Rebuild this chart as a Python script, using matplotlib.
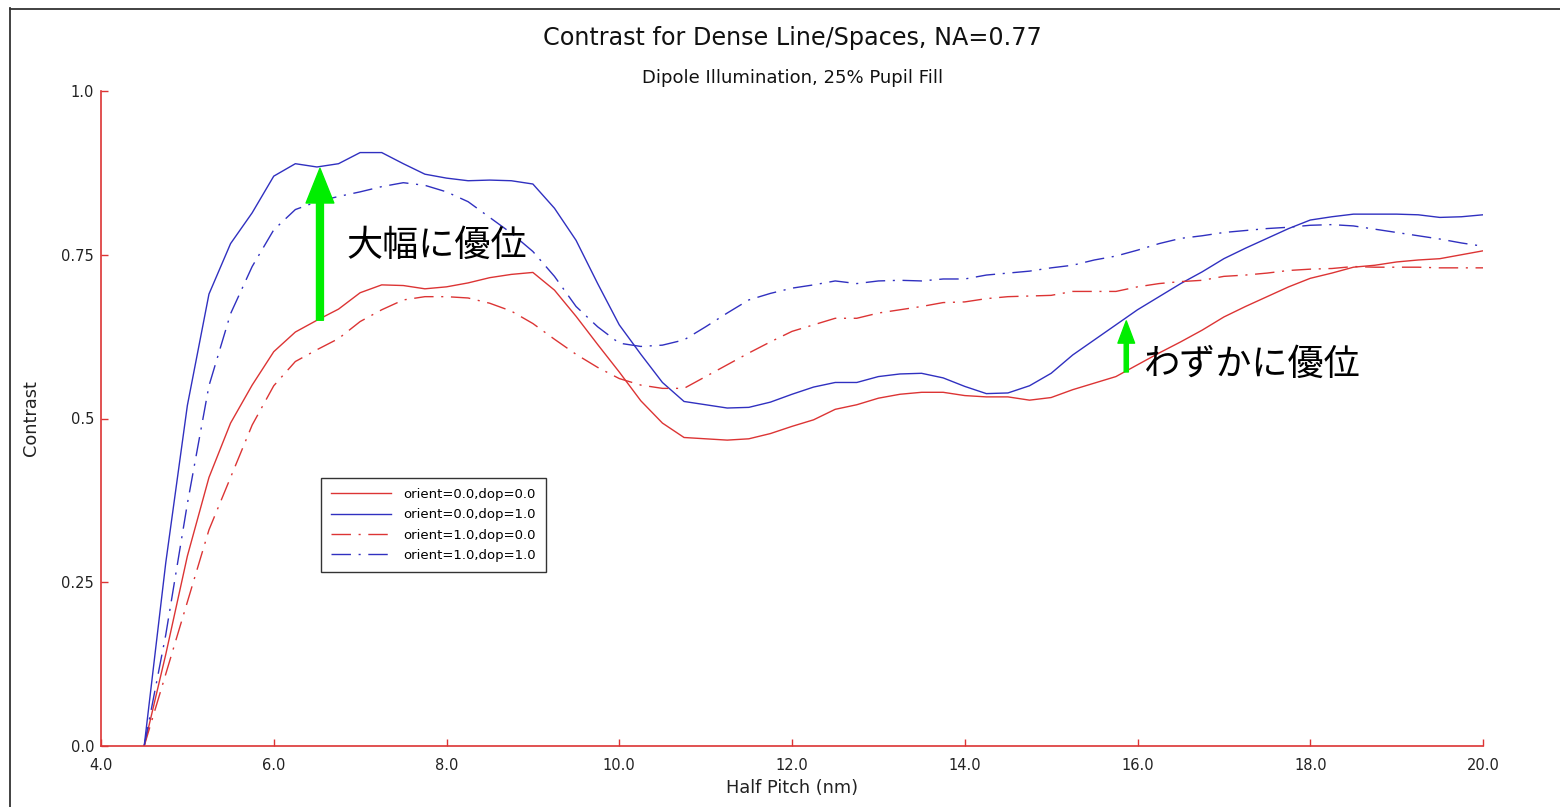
import numpy as np
import matplotlib
matplotlib.use("Agg")
import matplotlib.pyplot as plt
from matplotlib.patches import FancyArrowPatch, ArrowStyle
from matplotlib.lines import Line2D

half_pitch = [4.5, 4.75, 5.0, 5.25, 5.5, 5.75, 6.0, 6.25, 6.5, 6.75, 7.0, 7.25, 7.5, 7.75,
              8.0, 8.25, 8.5, 8.75, 9.0, 9.25, 9.5, 9.75, 10.0, 10.25, 10.5, 10.75, 11.0,
              11.25, 11.5, 11.75, 12.0, 12.25, 12.5, 12.75, 13.0, 13.25, 13.5, 13.75, 14.0,
              14.25, 14.5, 14.75, 15.0, 15.25, 15.5, 15.75, 16.0, 16.25, 16.5, 16.75, 17.0,
              17.25, 17.5, 17.75, 18.0, 18.25, 18.5, 18.75, 19.0, 19.25, 19.5, 19.75, 20.0]

o0_d0 = [0.0, 0.14, 0.29, 0.41, 0.493, 0.551, 0.602, 0.632, 0.650, 0.667, 0.692, 0.704, 0.703,
         0.698, 0.701, 0.707, 0.715, 0.720, 0.723, 0.696, 0.656, 0.613, 0.571, 0.527, 0.493,
         0.471, 0.469, 0.467, 0.469, 0.477, 0.488, 0.498, 0.514, 0.521, 0.531, 0.537, 0.540,
         0.540, 0.535, 0.533, 0.533, 0.528, 0.532, 0.544, 0.554, 0.564, 0.582, 0.600, 0.617,
         0.635, 0.655, 0.671, 0.686, 0.701, 0.714, 0.722, 0.731, 0.734, 0.739, 0.742, 0.744,
         0.750, 0.756]

o0_d1 = [0.0, 0.28, 0.52, 0.69, 0.767, 0.814, 0.870, 0.889, 0.884, 0.889, 0.906, 0.906, 0.889,
         0.873, 0.867, 0.863, 0.864, 0.863, 0.858, 0.821, 0.772, 0.706, 0.643, 0.598, 0.555,
         0.526, 0.521, 0.516, 0.517, 0.525, 0.537, 0.548, 0.555, 0.555, 0.564, 0.568, 0.569,
         0.562, 0.549, 0.538, 0.539, 0.550, 0.569, 0.597, 0.620, 0.643, 0.666, 0.686, 0.706,
         0.724, 0.744, 0.760, 0.775, 0.790, 0.803, 0.808, 0.812, 0.812, 0.812, 0.811, 0.807,
         0.808, 0.811]

o1_d0 = [0.0, 0.11, 0.22, 0.33, 0.41, 0.49, 0.55, 0.587, 0.605, 0.622, 0.648, 0.666, 0.681,
         0.686, 0.686, 0.684, 0.676, 0.664, 0.645, 0.621, 0.598, 0.578, 0.561, 0.551, 0.546,
         0.546, 0.564, 0.582, 0.600, 0.617, 0.633, 0.643, 0.653, 0.653, 0.661, 0.666, 0.671,
         0.677, 0.678, 0.683, 0.686, 0.687, 0.688, 0.694, 0.694, 0.694, 0.701, 0.706, 0.709,
         0.711, 0.717, 0.719, 0.722, 0.726, 0.728, 0.729, 0.732, 0.731, 0.731, 0.731, 0.730,
         0.730, 0.730]

o1_d1 = [0.0, 0.17, 0.37, 0.55, 0.66, 0.732, 0.788, 0.819, 0.831, 0.839, 0.846, 0.854, 0.860,
         0.856, 0.846, 0.831, 0.807, 0.783, 0.755, 0.717, 0.671, 0.640, 0.615, 0.610, 0.612,
         0.620, 0.640, 0.661, 0.681, 0.691, 0.699, 0.704, 0.710, 0.706, 0.710, 0.711, 0.710,
         0.713, 0.713, 0.719, 0.722, 0.725, 0.730, 0.734, 0.742, 0.748, 0.757, 0.767, 0.775,
         0.779, 0.784, 0.787, 0.790, 0.792, 0.795, 0.796, 0.794, 0.789, 0.784, 0.779, 0.774,
         0.768, 0.763]

labels = ["orient=0.0,dop=0.0", "orient=0.0,dop=1.0", "orient=1.0,dop=0.0", "orient=1.0,dop=1.0"]
x_ticks = [4.0, 6.0, 8.0, 10.0, 12.0, 14.0, 16.0, 18.0, 20.0]
y_ticks = [0.0, 0.25, 0.5, 0.75, 1.0]
y_ticklabels = ["0.0", "0.25", "0.5", "0.75", "1.0"]

title = "Contrast for Dense Line/Spaces, NA=0.77"
subtitle = "Dipole Illumination, 25% Pupil Fill"
note_big = "大幅に優位"
note_small = "わずかに優位"

RED = "#dc3434"
BLUE = "#3030c0"
GREEN = "#00ee00"
DASHDOT = (0, (14, 5.5, 1.5, 5.5))

plt.rcParams['font.family'] = ['DejaVu Sans']

fig = plt.figure(figsize=(15.6, 8.07), dpi=100)
ax = fig.add_axes([101/1560, 61/807, 1382/1560, 655/807])

ax.plot(half_pitch, o0_d0, color=RED, lw=1.0, label=labels[0])
ax.plot(half_pitch, o0_d1, color=BLUE, lw=1.0, label=labels[1])
ax.plot(half_pitch, o1_d0, color=RED, lw=1.0, linestyle=DASHDOT, label=labels[2])
ax.plot(half_pitch, o1_d1, color=BLUE, lw=1.0, linestyle=DASHDOT, label=labels[3])

ax.set_xlim(4.0, 20.0)
ax.set_ylim(0.0, 1.0)
ax.set_xticks(x_ticks)
ax.set_xticklabels([f"{v:.1f}" for v in x_ticks])
ax.set_yticks(y_ticks)
ax.set_yticklabels(y_ticklabels)

for s in ["top", "right"]:
    ax.spines[s].set_visible(False)
for s in ["left", "bottom"]:
    ax.spines[s].set_color(RED)
    ax.spines[s].set_linewidth(1.2)

ax.tick_params(axis="both", direction="in", length=5, width=1.0, color=RED,
               labelsize=10.5, labelcolor="#222222")
ax.tick_params(axis="x", pad=9)
ax.tick_params(axis="y", pad=5)

ax.set_xlabel("Half Pitch (nm)", fontsize=12.8, color="#222222")
ax.set_ylabel("Contrast", fontsize=12.8, color="#222222")
ax.xaxis.set_label_coords(0.5, -0.051)
ax.yaxis.set_label_coords(-0.0445, 0.5)

leg = ax.legend(loc="upper left", bbox_to_anchor=(0.159, 0.409), borderaxespad=0,
                fontsize=9.5, handlelength=4.6, fancybox=False, framealpha=1,
                edgecolor="#333333", borderpad=0.75, labelspacing=0.55, handletextpad=0.9)
leg.get_frame().set_linewidth(1.0)

fig.text(0.508, 1 - 38/807, title, ha="center", va="center", fontsize=17.2, color="#111111")
fig.text(0.508, 1 - 78/807, subtitle, ha="center", va="center", fontsize=13.0, color="#111111")

# green arrows
big = FancyArrowPatch((6.535, 0.650), (6.535, 0.882),
                      arrowstyle=ArrowStyle.Simple(head_length=25, head_width=20, tail_width=5),
                      mutation_scale=1, color=GREEN, shrinkA=0, shrinkB=0, zorder=5)
ax.add_patch(big)
small = FancyArrowPatch((15.87, 0.571), (15.87, 0.649),
                        arrowstyle=ArrowStyle.Simple(head_length=16, head_width=12, tail_width=3),
                        mutation_scale=1, color=GREEN, shrinkA=0, shrinkB=0, zorder=5)
ax.add_patch(small)

cjk = ['Noto Sans CJK JP', 'DejaVu Sans']
ax.text(6.84, 0.764, note_big, family=cjk, fontsize=26, ha="left", va="center", color="black")
ax.text(16.08, 0.582, note_small, family=cjk, fontsize=26, ha="left", va="center", color="black")

# figure border (left and top visible)
fig.add_artist(Line2D([9.5/1560, 9.5/1560], [0, 1 - 8/807], transform=fig.transFigure,
                      color="#333333", lw=1.3))
fig.add_artist(Line2D([9.5/1560, 1], [1 - 8.5/807, 1 - 8.5/807], transform=fig.transFigure,
                      color="#333333", lw=1.3))

fig.savefig("out.png", dpi=100)
